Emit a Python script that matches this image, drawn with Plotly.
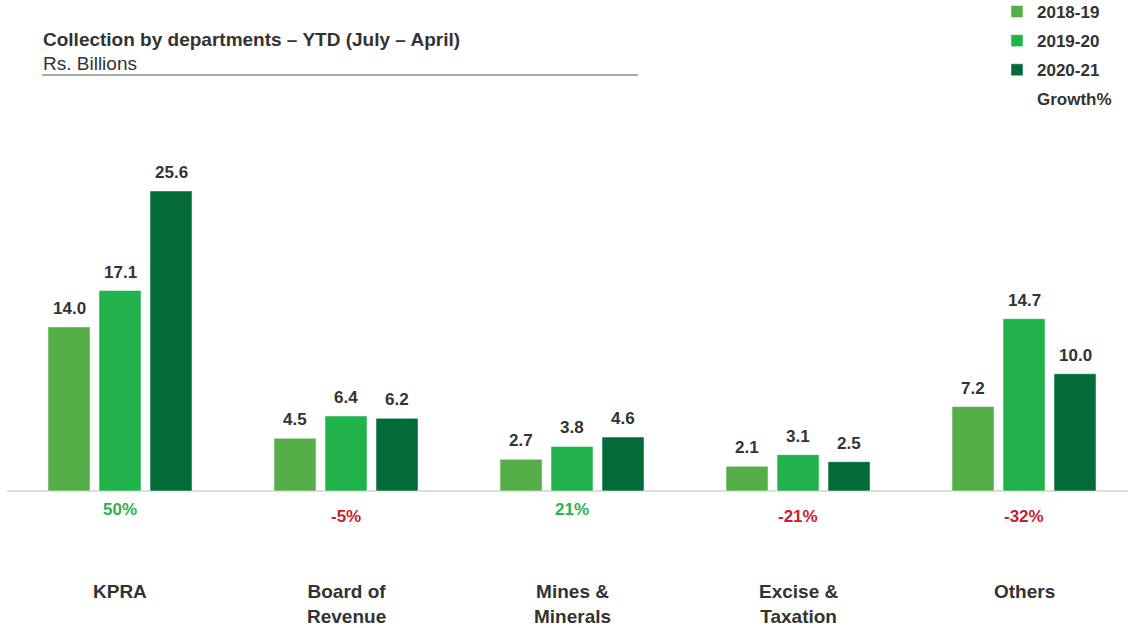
import plotly.graph_objects as go

categories = ["KPRA", "Board of<br>Revenue", "Mines &<br>Minerals", "Excise &<br>Taxation", "Others"]
series_names = ["2018-19", "2019-20", "2020-21"]
v_2018_19 = [14.0, 4.5, 2.7, 2.1, 7.2]
v_2019_20 = [17.1, 6.4, 3.8, 3.1, 14.7]
v_2020_21 = [25.6, 6.2, 4.6, 2.5, 10.0]
growth_pct = [50, -5, 21, -21, -32]

colors = ["#55AE47", "#21B24B", "#036B37"]
TXT = "#333333"
FONT = "Liberation Sans, Arial, sans-serif"
W, H = 1128, 628

x = list(range(len(categories)))
fig = go.Figure()
all_vals = [v_2018_19, v_2019_20, v_2020_21]
for k, (name, vals) in enumerate(zip(series_names, all_vals)):
    fig.add_trace(go.Bar(
        x=x, y=vals, name=name, legendgroup=name,
        marker=dict(color=colors[k], line=dict(color="rgba(255,255,255,0.5)", width=1)),
        hoverinfo="y+name",
    ))
    for i, v in enumerate(vals):
        fig.add_annotation(x=i, y=v, xshift=(k - 1) * 51, yshift=7,
                           text=f"<b>{v:.1f}</b>", showarrow=False,
                           xanchor="center", yanchor="bottom",
                           font=dict(family=FONT, size=17, color=TXT))

# Growth% legend entry (no visible symbol)
fig.add_trace(go.Scatter(x=[None], y=[None], name="Growth%", mode="lines",
                         line=dict(color="rgba(0,0,0,0)", width=0), legendgroup="Growth%"))

# Growth labels
for i, g in enumerate(growth_pct):
    pos = g >= 0
    fig.add_annotation(x=i, y=-1.6 if pos else -2.2, text=f"<b>{g}%</b>", showarrow=False,
                       font=dict(family=FONT, size=17, color="#2DB34A" if pos else "#C8202F"),
                       xanchor="center", yanchor="middle")

# Category labels
for i, c in enumerate(categories):
    fig.add_annotation(x=i, y=-7.5, text=f"<b>{c}</b>", showarrow=False,
                       font=dict(family=FONT, size=19, color=TXT),
                       xanchor="center", yanchor="top", align="center")

# Title
fig.add_annotation(xref="paper", yref="paper", x=41/W, y=1-40/H,
                   text="<b>Collection by departments – YTD (July – April)</b>",
                   showarrow=False, xanchor="left", yanchor="middle",
                   font=dict(family=FONT, size=19, color=TXT))
fig.add_annotation(xref="paper", yref="paper", x=41/W, y=1-63/H,
                   text="Rs. Billions", showarrow=False, xanchor="left", yanchor="middle",
                   font=dict(family=FONT, size=19, color=TXT))
fig.add_shape(type="line", xref="paper", yref="paper", x0=42/W, x1=638/W,
              y0=1-75/H, y1=1-75/H, line=dict(color="#555555", width=1))

# Baseline
fig.add_shape(type="line", xref="paper", yref="y", x0=7/W, x1=1, y0=0, y1=0,
              line=dict(color="#DDDDDD", width=2), layer="below")

fig.update_layout(
    width=W, height=H,
    margin=dict(l=0, r=0, t=0, b=0, autoexpand=False),
    paper_bgcolor="white", plot_bgcolor="white",
    barmode="group", bargap=0.323, bargroupgap=0.176,
    xaxis=dict(range=[-0.531, 4.460], showgrid=False, zeroline=False,
               showticklabels=False, fixedrange=True),
    yaxis=dict(range=[-11.69, 41.89], showgrid=False, zeroline=False,
               showticklabels=False, fixedrange=True),
    showlegend=True,
    legend=dict(x=997/W, y=1 + 6/H, xanchor="left", yanchor="top",
                font=dict(family=FONT, size=17, color=TXT, weight="bold"),
                tracegroupgap=4, bgcolor="rgba(0,0,0,0)"),
    font=dict(family=FONT),
)
fig.write_html("out.html", config={"displayModeBar": False},
               post_script="document.body.style.margin='0';document.body.style.overflow='hidden';")
